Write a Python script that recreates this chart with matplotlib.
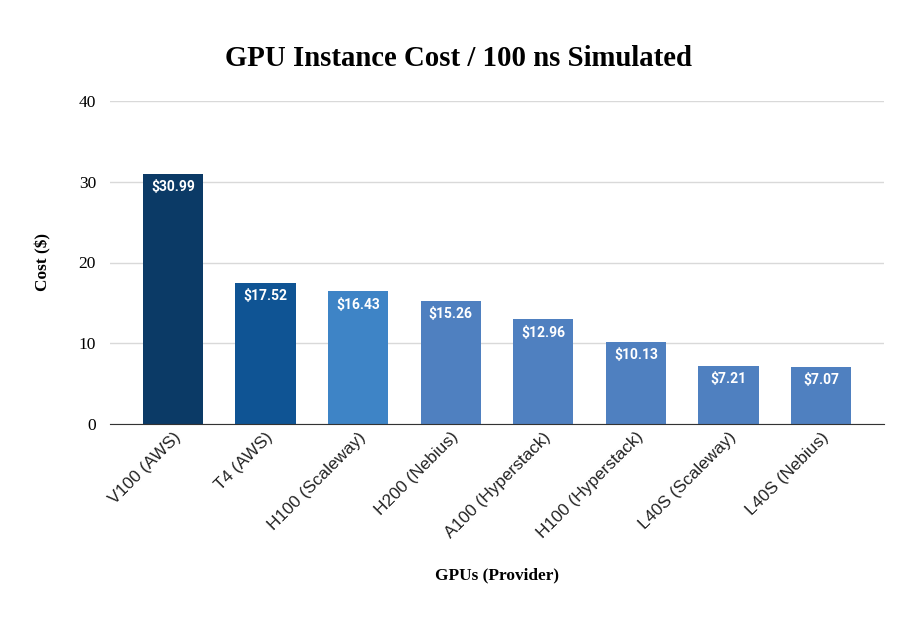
import matplotlib
matplotlib.use("Agg")
import matplotlib.pyplot as plt

categories = ["V100 (AWS)", "T4 (AWS)", "H100 (Scaleway)", "H200 (Nebius)",
              "A100 (Hyperstack)", "H100 (Hyperstack)", "L40S (Scaleway)", "L40S (Nebius)"]
costs = [30.99, 17.52, 16.43, 15.26, 12.96, 10.13, 7.21, 7.07]
colors = ["#0b3a66", "#0f5494", "#3e84c6", "#4f80c0", "#4f80c0", "#4f80c0", "#4f80c0", "#4f80c0"]
yticks = [0, 10, 20, 30, 40]

fig = plt.figure(figsize=(9.21, 6.17), dpi=100)
ax = fig.add_axes([110/921, 1-424/617, 774/921, 323/617])

x = list(range(len(categories)))
bars = ax.bar(x, costs, width=0.65, color=colors, zorder=3)
for xi, v in zip(x, costs):
    ax.annotate(f"${v:.2f}", (xi, v), xytext=(0, -4.5), textcoords="offset points",
                ha="center", va="top", color="white", fontsize=10,
                fontweight="bold", family="Roboto", zorder=4)

ax.set_xlim(-0.68, 7.68)
ax.set_ylim(0, 40)
ax.set_yticks(yticks)
ax.set_yticklabels([str(t) for t in yticks], family="Liberation Serif", fontsize=12.5)
ax.yaxis.grid(True, color="#d9d9d9", linewidth=1, zorder=0)
ax.tick_params(axis="y", length=0, pad=10)
ax.tick_params(axis="x", length=0, pad=4)
ax.set_xticks(x)
ax.set_xticklabels(categories, rotation=45, ha="right", rotation_mode="anchor",
                   family="Liberation Sans", fontsize=12.3, color="#222222")
for s in ["top", "right", "left"]:
    ax.spines[s].set_visible(False)
ax.spines["bottom"].set_color("#333333")
ax.spines["bottom"].set_zorder(5)

fig.text(458/921, 1-58/617, "GPU Instance Cost / 100 ns Simulated", ha="center", va="center",
         family="Liberation Serif", fontweight="bold", fontsize=20.7)
fig.text(43/921, 1-262/617, "Cost ($)", rotation=90, ha="center", va="center",
         family="Liberation Serif", fontweight="bold", fontsize=12.4)
fig.text(497/921, 1-575/617, "GPUs (Provider)", ha="center", va="center",
         family="Liberation Serif", fontweight="bold", fontsize=12.4)

fig.savefig("out.png", dpi=100)
